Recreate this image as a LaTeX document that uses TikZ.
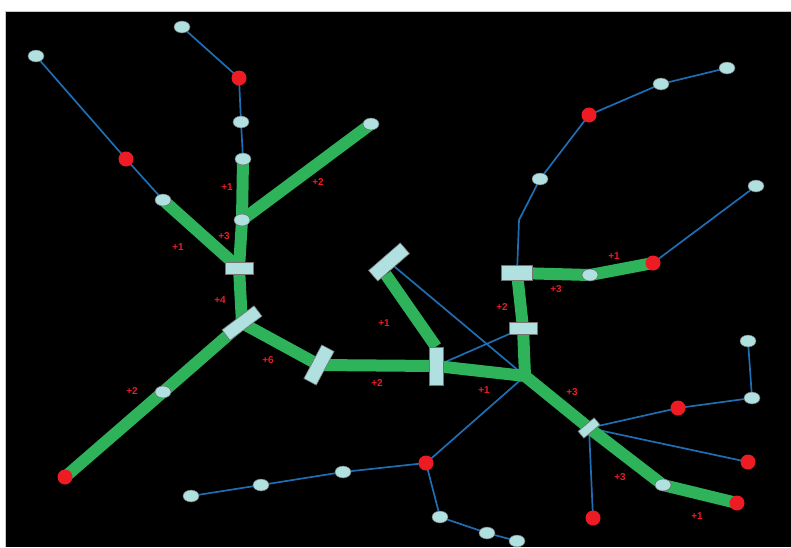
\documentclass[tikz,border=0pt]{standalone}
\usepackage{fontspec}
\setmainfont{Liberation Sans}
\usetikzlibrary{shapes.geometric,calc}
\definecolor{lblue}{HTML}{B0E0E0}
\definecolor{rred}{HTML}{ED1C24}
\definecolor{ggreen}{HTML}{2EB35A}
\definecolor{bblue}{HTML}{1F6EB4}
\definecolor{frame}{HTML}{C8C8C8}
\pgfdeclarelayer{back}
\pgfdeclarelayer{bgg}
\pgfdeclarelayer{bg}
\pgfsetlayers{back,bgg,bg,main}
\tikzset{
  lbn/.style={ellipse, fill=lblue, draw=black!60, line width=0.5pt, minimum width=16pt, minimum height=12pt, inner sep=0pt},
  rdn/.style={circle, fill=rred, minimum size=15pt, inner sep=0pt},
  box/.style={rectangle, fill=lblue, draw=black!55, line width=0.6pt, inner sep=0pt},
  gl/.style={draw=ggreen, line width=12pt, line cap=round, line join=round},
  bl/.style={draw=bblue, line width=1.7pt, line join=round},
  lab/.style={text=rred, font=\bfseries\fontsize{10}{12}\selectfont, inner sep=0pt}
}
\begin{document}
\begin{tikzpicture}[x=1pt,y=-1pt]
\useasboundingbox (0,0) rectangle (791,547);
\begin{pgfonlayer}{back}
\fill[white] (0,0) rectangle (791,547);
\fill[black] (5,11) rectangle (791,547);
\draw[frame, line width=0.8pt] (5,547) -- (5,11) -- (791,11);
\end{pgfonlayer}

\node[lbn] (a1) at (36,56) {};
\node[rdn] (r1) at (126,159) {};
\node[lbn] (b1) at (163,200) {};
\node[lbn] (a2) at (182,27) {};
\node[rdn] (r2) at (239,78) {};
\node[lbn] (c1) at (241,122) {};
\node[lbn] (c2) at (243,159) {};
\node[lbn] (c3) at (242,220) {};
\node[lbn] (c4) at (371,124) {};
\node[box, minimum width=28pt, minimum height=12pt] (h1) at (239,268) {};
\node[box, minimum width=40pt, minimum height=13pt, rotate=37] (ra) at (242,323) {};
\node[lbn] (d1) at (163,392) {};
\node[rdn] (r3) at (65,477) {};
\node[box, minimum width=38pt, minimum height=14pt, rotate=62] (rb) at (319,365) {};
\node[box, minimum width=14pt, minimum height=38pt] (v) at (436,366) {};
\node[box, minimum width=42pt, minimum height=14pt, rotate=41] (rd) at (389,262) {};
\coordinate (j) at (525,376);
\node[box, minimum width=28pt, minimum height=12pt] (h3) at (523,328) {};
\node[box, minimum width=31pt, minimum height=15pt] (h2) at (517,273) {};
\node[lbn] (e1) at (590,275) {};
\node[rdn] (r4) at (653,263) {};
\node[lbn] (e2) at (756,186) {};
\coordinate (bend) at (519,220);
\node[lbn] (f1) at (540,179) {};
\node[rdn] (r5) at (589,115) {};
\node[lbn] (f2) at (661,84) {};
\node[lbn] (f3) at (727,68) {};
\node[box, minimum width=21pt, minimum height=9pt, rotate=40] (rc) at (589,428) {};
\node[rdn] (r6) at (678,408) {};
\node[lbn] (g1) at (752,398) {};
\node[lbn] (g2) at (748,341) {};
\node[rdn] (r7) at (748,462) {};
\node[rdn] (r8) at (593,518) {};
\node[lbn] (g3) at (663,485) {};
\node[rdn] (r9) at (737,503) {};
\node[rdn] (r10) at (426,463) {};
\node[lbn] (k1) at (343,472) {};
\node[lbn] (k2) at (261,485) {};
\node[lbn] (k3) at (191,496) {};
\node[lbn] (m1) at (440,517) {};
\node[lbn] (m2) at (487,533) {};
\node[lbn] (m3) at (517,541) {};
\coordinate (rdfoot) at ($(rd.south west)!0.25!(rd.south east)$);

\begin{pgfonlayer}{bgg}
\draw[bl] (a1.center) -- (r1.center) -- (b1.center);
\draw[bl] (a2.center) -- (r2.center) -- (c1.center) -- (c2.center);
\draw[bl] (rd.center) -- (j);
\draw[bl] (v.center) -- (h3.center);
\draw[bl] (h2.center) -- (bend) -- (f1.center) -- (r5.center) -- (f2.center) -- (f3.center);
\draw[bl] (r4.center) -- (e2.center);
\draw[bl] (j) -- (r10.center);
\draw[bl] (r10.center) -- (k1.center) -- (k2.center) -- (k3.center);
\draw[bl] (r10.center) -- (m1.center) -- (m2.center) -- (m3.center);
\draw[bl] (rc.center) -- (r6.center) -- (g1.center) -- (g2.center);
\draw[bl] (rc.center) -- (r7.center);
\draw[bl] (rc.center) -- (r8.center);
\end{pgfonlayer}

\begin{pgfonlayer}{bg}
\draw[gl] (c2.center) -- (c3.center) -- (h1.center);
\draw[gl] (c3.center) -- (c4.center);
\draw[gl] (b1.center) -- (h1.center);
\draw[gl] (h1.center) -- (ra.center);
\draw[gl] (ra.center) -- (d1.center) -- (r3.center);
\draw[gl] (ra.center) -- (rb.center) -- (v.center) -- (j);
\draw[gl, line cap=butt] (rdfoot) -- (v.north);
\draw[gl] (h2.center) -- (h3.center) -- (j) -- (rc.center) -- (g3.center) -- (r9.center);
\draw[gl] (h2.center) -- (e1.center) -- (r4.center);
\end{pgfonlayer}

\node[lab] (l1) at (227,187) {+1};
\node[lab] (l2) at (318,182) {+2};
\node[lab] (l3) at (224,236) {+3};
\node[lab] (l4) at (178,247) {+1};
\node[lab] (l5) at (220,300) {+4};
\node[lab] (l6) at (132,391) {+2};
\node[lab] (l7) at (268,360) {+6};
\node[lab] (l8) at (377,383) {+2};
\node[lab] (l9) at (384,323) {+1};
\node[lab] (l10) at (484,390) {+1};
\node[lab] (l11) at (502,307) {+2};
\node[lab] (l12) at (556,289) {+3};
\node[lab] (l13) at (614,256) {+1};
\node[lab] (l14) at (572,392) {+3};
\node[lab] (l15) at (620,477) {+3};
\node[lab] (l16) at (697,516) {+1};
\end{tikzpicture}
\end{document}
